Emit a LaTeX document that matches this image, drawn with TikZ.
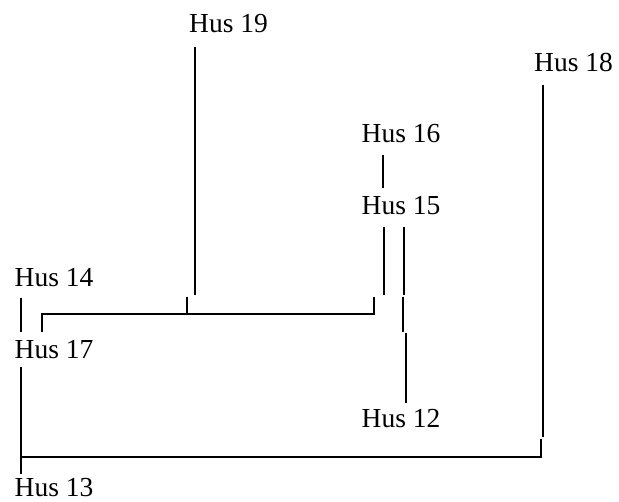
\documentclass[tikz,border=0pt]{standalone}
\usepackage{fontspec}
\setmainfont{Liberation Serif}
\begin{document}
\begin{tikzpicture}[x=1pt,y=-1pt,
  lbl/.style={anchor=base,inner sep=0pt,text depth=0pt,font=\fontsize{27.5}{30}\selectfont},
  link/.style={line width=2.4pt,line cap=butt}]
\useasboundingbox (0,0) rectangle (619,502);
% labels
\node[lbl] (h19) at (228.5,33) {Hus 19};
\node[lbl] (h18) at (573.5,72) {Hus 18};
\node[lbl] (h16) at (401,143) {Hus 16};
\node[lbl] (h15) at (401,215) {Hus 15};
\node[lbl] (h14) at (54,287) {Hus 14};
\node[lbl] (h17) at (54,359) {Hus 17};
\node[lbl] (h12) at (401,428) {Hus 12};
\node[lbl] (h13) at (54,497) {Hus 13};
% junction coordinates
\coordinate (a19) at (195,47);
\coordinate (b19) at (195,295);
\coordinate (t19) at (187,297);
\coordinate (j1) at (187,314);
\coordinate (cL) at (42,332);
\coordinate (cR) at (374,297);
\coordinate (a15l) at (384,227);
\coordinate (b15l) at (384,295);
\coordinate (a15r) at (404,227);
\coordinate (b15r) at (404,295);
\coordinate (m1) at (403,297);
\coordinate (m2) at (403,332);
\coordinate (m3) at (406,333);
\coordinate (m4) at (406,403);
\coordinate (a18) at (543,85);
\coordinate (b18) at (543,437);
\coordinate (c18) at (541,439);
\coordinate (j2) at (21,457);
% connectors
\draw[link] (a19) -- (b19);
\draw[link] (t19) -- (j1);
\draw[link] (cL) |- (cR |- j1) -- (cR);
\draw[link] (383,155) -- (383,188);
\draw[link] (a15l) -- (b15l);
\draw[link] (a15r) -- (b15r);
\draw[link] (m1) -- (m2);
\draw[link] (m3) -- (m4);
\draw[link] (21,298) -- (21,332);
\draw[link] (21,367) -- (21,474);
\draw[link] (a18) -- (b18);
\draw[link] (j2) -| (c18);
\end{tikzpicture}
\end{document}
